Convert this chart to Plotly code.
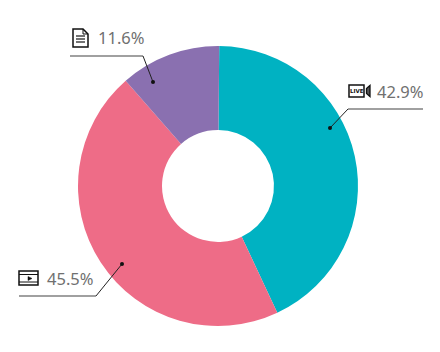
import plotly.graph_objects as go

labels = ["Live", "Video", "Document"]
values = [42.9, 45.5, 11.6]
colors = ["#00B2C2", "#EE6C87", "#8A70B0"]
value_labels = ["42.9%", "45.5%", "11.6%"]

W, H = 440, 352
def px(x): return x / W
def py(y): return 1 - y / H
def path(points, close=False):
    s = "M" + " L".join(f"{px(x):.5f},{py(y):.5f}" for x, y in points)
    return s + (" Z" if close else "")

fig = go.Figure(go.Pie(
    labels=labels, values=values, hole=0.4, sort=False, direction="clockwise",
    rotation=0.5, marker=dict(colors=colors, line=dict(width=0)),
    textinfo="none", hoverinfo="label+percent", showlegend=False,
    domain=dict(x=[px(78), px(358)], y=[py(326), py(46)]),
))

shapes = []
def line(points, color, width):
    shapes.append(dict(type="path", xref="paper", yref="paper", path=path(points),
                       line=dict(color=color, width=width), fillcolor="rgba(0,0,0,0)"))
def poly(points, fill="#222", lc="#222", width=1.2):
    shapes.append(dict(type="path", xref="paper", yref="paper", path=path(points, True),
                       line=dict(color=lc, width=width), fillcolor=fill))
def dot(x, y, r=2):
    shapes.append(dict(type="circle", xref="paper", yref="paper",
                       x0=px(x-r), x1=px(x+r), y0=py(y+r), y1=py(y-r),
                       fillcolor="#111", line=dict(width=0)))

# leader lines
for horiz, diag, d in [
    ([(423, 109), (348, 109)], [(348, 109), (330, 128)], (330, 128)),
    ([(70, 56), (143, 56)], [(143, 56), (153, 82)], (153, 82)),
    ([(19, 296), (96, 296)], [(96, 296), (122, 264)], (122, 264)),
]:
    line(horiz, "#808080", 1.5)
    line(diag, "#222222", 1)
    dot(*d)

# live icon
poly([(349, 85), (364, 85), (364, 97), (349, 97)], "white", "#111", 1.5)
poly([(366.5, 88.5), (370, 85.5), (370, 96.5), (366.5, 93.5)], "#555", "#111", 1.3)
# document icon
poly([(73, 29), (83, 29), (88, 34), (88, 47), (73, 47)], "white", "#111", 1.5)
line([(83, 29), (83, 34), (88, 34)], "#111", 1)
for y in (36, 39, 42):
    line([(76, y), (85, y)], "#444", 1.5)
# video icon
poly([(19, 271), (38, 271), (38, 285), (19, 285)], "white", "#111", 1.5)
line([(19, 274.5), (38, 274.5)], "#111", 1)
line([(19, 282), (38, 282)], "#111", 1)
poly([(28, 276.5), (32, 278.5), (28, 280.5)], "#111", "#111", 0.5)

def text(x, y, s, size=16.5, color="#707070", anchor="left", family="Noto Sans"):
    return dict(xref="paper", yref="paper", x=px(x), y=py(y), text=s, showarrow=False,
                xanchor=anchor, yanchor="middle",
                font=dict(family=family, size=size, color=color))

anns = [
    text(425, 91, value_labels[0], anchor="right"),
    text(95, 278, value_labels[1], anchor="right"),
    text(146, 38, value_labels[2], anchor="right"),
    text(356.5, 91, "LIVE", size=5.5, color="#111", anchor="center", family="DejaVu Sans"),
]
anns[3]["font"]["weight"] = "bold"

fig.update_layout(width=W, height=H, margin=dict(l=0, r=0, t=0, b=0),
                  paper_bgcolor="white", shapes=shapes, annotations=anns)
fig.write_html("out.html", config={"displayModeBar": False},
               post_script="document.body.style.margin='0';document.documentElement.style.overflow='hidden';")
